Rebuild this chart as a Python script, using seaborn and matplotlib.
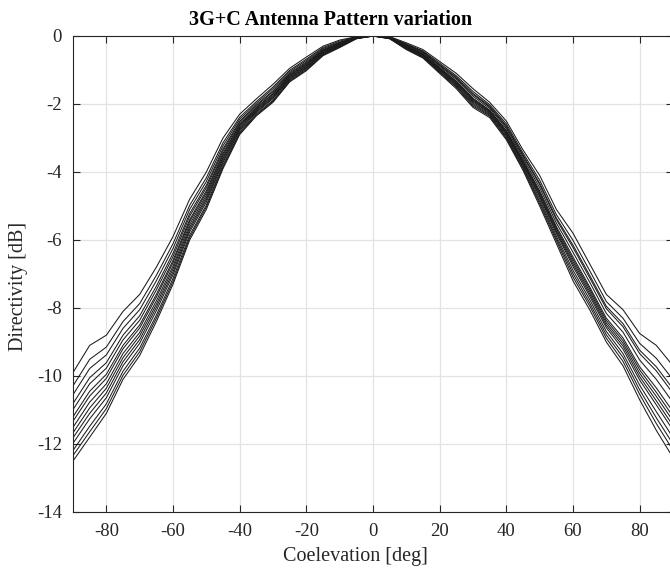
import numpy as np
import pandas as pd
import matplotlib
matplotlib.use("Agg")
import matplotlib.pyplot as plt
import seaborn as sns

# coelevation grid (deg)
angles = [-90, -85, -80, -75, -70, -65, -60, -55, -50, -45, -40, -35, -30, -25, -20, -15, -10, -5,
          0,
          5, 10, 15, 20, 25, 30, 35, 40, 45, 50, 55, 60, 65, 70, 75, 80, 85, 90]

# directivity [dB] of each pattern
curve_01 = [-9.90, -9.10, -8.80, -8.10, -7.60, -6.80, -5.90, -4.80, -4.00, -3.00, -2.30, -1.85, -1.42, -0.95, -0.62, -0.30, -0.12, -0.02,
            0.0,
            -0.04, -0.26, -0.48, -0.86, -1.24, -1.72, -2.09, -2.67, -3.53, -4.37, -5.40, -6.22, -7.11, -8.02, -8.55, -9.34, -9.85, -10.51]
curve_02 = [-10.29, -9.51, -9.15, -8.40, -7.87, -7.04, -6.11, -4.98, -4.17, -3.14, -2.39, -1.93, -1.50, -1.01, -0.68, -0.34, -0.15, -0.03,
            0.0,
            -0.02, -0.20, -0.40, -0.75, -1.10, -1.55, -1.95, -2.50, -3.35, -4.10, -5.10, -5.80, -6.70, -7.60, -8.05, -8.75, -9.10, -9.70]
curve_03 = [-10.55, -9.78, -9.38, -8.60, -8.05, -7.20, -6.25, -5.10, -4.28, -3.23, -2.45, -1.98, -1.55, -1.05, -0.72, -0.37, -0.18, -0.04,
            0.0,
            -0.06, -0.32, -0.55, -0.96, -1.37, -1.88, -2.22, -2.83, -3.71, -4.64, -5.70, -6.64, -7.51, -8.44, -9.04, -9.92, -10.60, -11.32]
curve_04 = [-10.81, -10.05, -9.61, -8.80, -8.23, -7.36, -6.39, -5.22, -4.39, -3.32, -2.51, -2.03, -1.61, -1.09, -0.76, -0.40, -0.20, -0.04,
            0.0,
            -0.03, -0.23, -0.44, -0.80, -1.17, -1.63, -2.02, -2.58, -3.44, -4.24, -5.25, -6.01, -6.90, -7.81, -8.30, -9.04, -9.48, -10.11]
curve_05 = [-10.99, -10.23, -9.77, -8.94, -8.36, -7.47, -6.49, -5.30, -4.46, -3.38, -2.55, -2.06, -1.64, -1.12, -0.79, -0.42, -0.21, -0.05,
            0.0,
            -0.07, -0.37, -0.61, -1.05, -1.48, -2.02, -2.33, -2.97, -3.86, -4.87, -5.95, -6.99, -7.85, -8.79, -9.45, -10.41, -11.23, -12.00]
curve_06 = [-11.20, -10.45, -9.95, -9.10, -8.50, -7.60, -6.60, -5.40, -4.55, -3.45, -2.60, -2.10, -1.69, -1.15, -0.82, -0.44, -0.23, -0.05,
            0.0,
            -0.04, -0.28, -0.50, -0.89, -1.28, -1.77, -2.13, -2.72, -3.59, -4.46, -5.50, -6.36, -7.24, -8.16, -8.71, -9.53, -10.10, -10.78]
curve_07 = [-11.33, -10.59, -10.07, -9.20, -8.59, -7.68, -6.67, -5.46, -4.61, -3.50, -2.63, -2.13, -1.71, -1.17, -0.84, -0.45, -0.24, -0.05,
            0.0,
            -0.06, -0.34, -0.58, -1.00, -1.42, -1.94, -2.27, -2.89, -3.77, -4.73, -5.80, -6.78, -7.65, -8.58, -9.21, -10.12, -10.85, -11.59]
curve_08 = [-11.51, -10.77, -10.23, -9.34, -8.72, -7.79, -6.77, -5.54, -4.68, -3.56, -2.67, -2.16, -1.75, -1.20, -0.87, -0.47, -0.26, -0.06,
            0.0,
            -0.04, -0.25, -0.46, -0.84, -1.21, -1.69, -2.06, -2.64, -3.50, -4.33, -5.35, -6.15, -7.04, -7.95, -8.46, -9.24, -9.73, -10.38]
curve_09 = [-11.67, -10.94, -10.36, -9.46, -8.82, -7.89, -6.85, -5.62, -4.75, -3.61, -2.71, -2.19, -1.78, -1.22, -0.89, -0.49, -0.27, -0.06,
            0.0,
            -0.08, -0.40, -0.65, -1.10, -1.55, -2.10, -2.40, -3.05, -3.95, -5.00, -6.10, -7.20, -8.05, -9.00, -9.70, -10.70, -11.60, -12.40]
curve_10 = [-11.82, -11.10, -10.50, -9.58, -8.93, -7.98, -6.94, -5.69, -4.81, -3.67, -2.74, -2.22, -1.81, -1.25, -0.92, -0.51, -0.28, -0.06,
            0.0,
            -0.05, -0.30, -0.53, -0.93, -1.33, -1.83, -2.18, -2.78, -3.65, -4.55, -5.60, -6.50, -7.38, -8.30, -8.88, -9.73, -10.35, -11.05]
curve_11 = [-11.98, -11.26, -10.64, -9.70, -9.04, -8.08, -7.02, -5.76, -4.88, -3.72, -2.78, -2.25, -1.84, -1.27, -0.94, -0.52, -0.30, -0.07,
            0.0,
            -0.07, -0.36, -0.60, -1.02, -1.45, -1.98, -2.30, -2.93, -3.82, -4.80, -5.88, -6.89, -7.75, -8.69, -9.34, -10.27, -11.05, -11.81]
curve_12 = [-12.19, -11.48, -10.82, -9.86, -9.18, -8.21, -7.13, -5.86, -4.97, -3.79, -2.83, -2.29, -1.89, -1.30, -0.97, -0.55, -0.31, -0.07,
            0.0,
            -0.05, -0.31, -0.54, -0.94, -1.35, -1.85, -2.20, -2.80, -3.68, -4.60, -5.65, -6.57, -7.44, -8.37, -8.96, -9.82, -10.48, -11.19]
curve_13 = [-12.34, -11.64, -10.96, -9.98, -9.29, -8.30, -7.22, -5.93, -5.03, -3.85, -2.86, -2.32, -1.92, -1.33, -1.00, -0.56, -0.33, -0.08,
            0.0,
            -0.08, -0.38, -0.63, -1.07, -1.51, -2.06, -2.36, -3.01, -3.90, -4.93, -6.02, -7.09, -7.94, -8.89, -9.57, -10.54, -11.40, -12.18]
curve_14 = [-12.50, -11.80, -11.10, -10.10, -9.40, -8.40, -7.30, -6.00, -5.10, -3.90, -2.90, -2.35, -1.95, -1.35, -1.02, -0.58, -0.34, -0.08,
            0.0,
            -0.06, -0.33, -0.56, -0.98, -1.39, -1.91, -2.24, -2.86, -3.74, -4.69, -5.75, -6.71, -7.58, -8.51, -9.12, -10.02, -10.73, -11.46]

curves = [curve_01, curve_02, curve_03, curve_04, curve_05, curve_06, curve_07,
          curve_08, curve_09, curve_10, curve_11, curve_12, curve_13, curve_14]

x_ticks = [-80, -60, -40, -20, 0, 20, 40, 60, 80]
y_ticks = [0, -2, -4, -6, -8, -10, -12, -14]

# long table for seaborn
rows = []
for k, c in enumerate(curves):
    for a, v in zip(angles, c):
        rows.append((k, a, v))
df = pd.DataFrame(rows, columns=["curve", "angle", "dir"])

sns.set_style("whitegrid")
plt.rcParams["font.family"] = ["Liberation Serif", "DejaVu Serif"]

W, H = 670, 570
fig = plt.figure(figsize=(W / 100, H / 100), dpi=100)
ax = fig.add_axes([73 / W, 58 / H, 600 / W, 476 / H])

sns.lineplot(data=df, x="angle", y="dir", units="curve", estimator=None,
             color="#1a1a1a", linewidth=0.75, legend=False, ax=ax)

ax.set_xlim(-90, 90)
ax.set_ylim(-14, 0)
ax.set_xticks(x_ticks)
ax.set_yticks(y_ticks)
ax.set_xticklabels([str(t) for t in x_ticks])
ax.set_yticklabels([str(t) for t in y_ticks])
ax.set_xlabel("")
ax.set_ylabel("")

ax.grid(True, color="#e3e3e3", linewidth=0.9)
ax.set_axisbelow(True)
for s in ax.spines.values():
    s.set_color("#262626")
    s.set_linewidth(0.8)
    s.set_visible(True)
ax.tick_params(direction="in", length=5, width=0.8, color="#262626",
               labelcolor="#262626", labelsize=13.5, top=True, right=True,
               bottom=True, left=True, pad=8)

fig.text(331 / W, 1 - 20 / H, "3G+C Antenna Pattern variation", ha="center", va="center",
         fontsize=14.5, fontweight="bold", color="black")
fig.text(355 / W, 1 - 556 / H, "Coelevation [deg]", ha="center", va="center",
         fontsize=14.5, color="#262626")
fig.text(19 / W, 1 - 286 / H, "Directivity [dB]", ha="center", va="center",
         rotation=90, fontsize=14.5, color="#262626")

fig.savefig("out.png", dpi=100)
